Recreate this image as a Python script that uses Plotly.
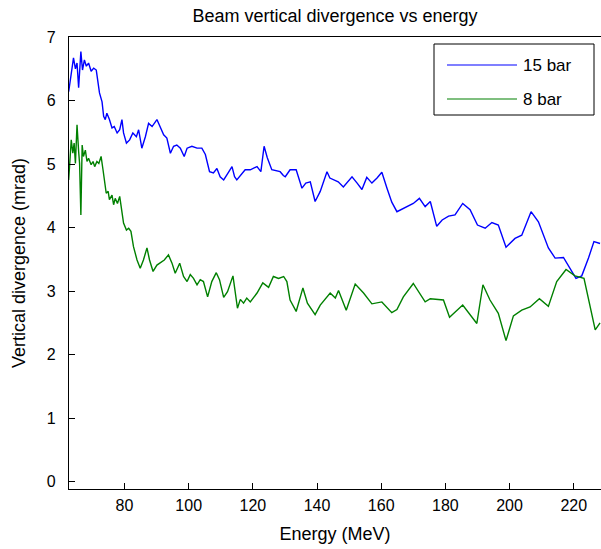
import plotly.graph_objects as go

# Energy (MeV) and vertical divergence (mrad) for the 15 bar gas-cell run
energy_15bar = [62.6, 63.1, 63.6, 64.1, 64.7, 65.2, 65.7, 66.0, 66.4, 66.9, 67.5, 68.1, 68.8,
                69.6, 70.4, 71.2, 71.6, 72.2, 73.0, 73.5, 74.0, 74.5, 75.3, 76.1, 76.8, 77.7,
                78.5, 79.2, 79.7, 80.6, 81.6, 82.6, 83.7, 84.4, 85.4, 86.5, 87.5, 88.6, 90.1,
                91.1, 92.2, 93.2, 94.3, 95.3, 96.3, 97.4, 98.6, 99.5, 101.0, 102.6, 104.1,
                105.2, 106.5, 107.7, 108.8, 109.8, 110.9, 111.9, 113.5, 114.3, 115.0, 117.6,
                119.2, 121.3, 122.5, 123.5, 124.5, 125.9, 127.0, 128.5, 129.5, 130.1, 131.6,
                133.5, 135.3, 136.5, 137.9, 139.4, 141.0, 142.1, 143.1, 144.0, 145.1, 146.6,
                148.2, 150.9, 152.5, 154.0, 155.5, 157.1, 158.7, 160.2, 161.8, 163.3, 164.9,
                167.0, 170.0, 171.9, 173.7, 175.3, 177.3, 179.0, 181.0, 183.0, 185.4, 187.7,
                190.0, 192.4, 194.5, 196.5, 198.9, 201.7, 203.8, 206.7, 209.0, 212.1, 214.2,
                216.8, 218.9, 220.7, 222.5, 224.6, 226.3, 228.2]
div_15bar = [6.14, 6.33, 6.48, 6.67, 6.50, 6.59, 6.20, 6.54, 6.77, 6.48, 6.64, 6.54, 6.59,
             6.46, 6.51, 6.48, 6.35, 6.12, 5.98, 5.75, 5.70, 5.80, 5.70, 5.57, 5.59, 5.49,
             5.54, 5.70, 5.49, 5.33, 5.38, 5.49, 5.43, 5.54, 5.25, 5.43, 5.64, 5.59, 5.70,
             5.59, 5.46, 5.41, 5.17, 5.28, 5.30, 5.25, 5.12, 5.25, 5.28, 5.25, 5.25,
             5.15, 4.88, 4.86, 4.93, 4.80, 4.75, 4.83, 4.96, 4.80, 4.75, 4.91,
             4.91, 4.96, 4.88, 5.28, 5.10, 4.91, 4.90, 4.88, 4.82, 4.80, 4.91,
             4.91, 4.62, 4.70, 4.72, 4.41, 4.57, 4.75, 4.88, 4.78, 4.75, 4.72,
             4.64, 4.80, 4.70, 4.60, 4.79, 4.70, 4.78, 4.87, 4.62, 4.40, 4.25,
             4.30, 4.38, 4.46, 4.33, 4.41, 4.02, 4.12, 4.18, 4.20, 4.38, 4.28,
             4.04, 3.99, 4.08, 4.04, 3.69, 3.83, 3.88, 4.25, 4.09, 3.68, 3.52,
             3.53, 3.36, 3.20, 3.24, 3.52, 3.78, 3.75]

# Energy (MeV) and vertical divergence (mrad) for the 8 bar gas-cell run
energy_8bar = [62.6, 62.9, 63.4, 63.9, 64.3, 64.7, 65.2, 65.7, 66.0, 66.4, 66.8, 67.2, 67.8,
               68.3, 68.8, 69.6, 70.2, 70.7, 71.4, 72.0, 72.7, 73.3, 73.8, 74.3, 74.9, 75.3,
               76.1, 76.6, 77.1, 77.8, 78.5, 79.2, 79.7, 80.6, 81.3, 82.0, 82.8, 83.9, 84.9,
               85.9, 87.0, 87.8, 88.9, 90.1, 91.1, 92.4, 93.7, 94.8, 95.8, 97.2, 98.4, 99.5,
               100.5, 101.5, 102.6, 103.6, 104.6, 105.9, 107.2, 108.6, 109.6, 110.9, 112.1,
               113.8, 115.2, 116.1, 117.1, 118.1, 119.2, 121.3, 123.1, 124.9, 126.4, 128.0,
               129.6, 130.6, 131.6, 133.5, 135.6, 137.0, 139.4, 141.0, 144.1, 145.7, 146.7,
               149.1, 151.9, 154.5, 157.1, 160.2, 163.3, 164.9, 166.9, 170.0, 173.7, 175.3,
               179.4, 181.3, 185.4, 189.8, 191.7, 193.9, 196.5, 198.9, 201.2, 203.8, 206.4,
               209.3, 212.1, 214.7, 217.6, 220.4, 223.2, 224.9, 226.7, 228.2]
div_8bar = [4.75, 5.07, 5.38, 5.17, 5.33, 5.01, 5.62, 5.20, 5.01, 4.20, 5.30, 5.12, 5.22,
            5.04, 5.09, 4.99, 5.04, 4.96, 5.04, 5.01, 5.12, 4.91, 4.75, 4.54, 4.57, 4.44,
            4.51, 4.36, 4.46, 4.38, 4.49, 4.28, 4.07, 3.96, 3.99, 3.94, 3.70, 3.49, 3.36,
            3.49, 3.68, 3.49, 3.31, 3.41, 3.44, 3.49, 3.57, 3.44, 3.28, 3.44, 3.23, 3.15,
            3.26, 3.20, 3.10, 3.18, 3.15, 2.91, 3.15, 3.29, 3.18, 2.90, 2.99,
            3.24, 2.73, 2.87, 2.81, 2.89, 2.83, 2.97, 3.13, 3.06, 3.23, 3.20,
            3.23, 3.15, 2.86, 2.68, 3.05, 2.81, 2.63, 2.78, 2.97, 2.89, 3.01,
            2.70, 3.11, 2.97, 2.80, 2.83, 2.66, 2.71, 2.91, 3.12, 2.83, 2.88,
            2.86, 2.59, 2.78, 2.49, 3.10, 2.86, 2.65, 2.22, 2.61, 2.70, 2.75,
            2.88, 2.76, 3.15, 3.34, 3.24, 3.20, 2.81, 2.39, 2.50]

series_names = ["15 bar", "8 bar"]
series_colors = ["#0000ff", "#008000"]
x_ticks = [80, 100, 120, 140, 160, 180, 200, 220]
y_ticks = [0, 1, 2, 3, 4, 5, 6, 7]

W, H = 601, 549
ML, MR, MT, MB = 69, 0, 37, 60
PW, PH = W - ML - MR, H - MT - MB
FONT = "Liberation Sans, Arial, sans-serif"


def px_x(p):
    return (p - ML) / PW


def px_y(p):
    return (H - MB - p) / PH


fig = go.Figure()
for xs, ys, name, color in [(energy_15bar, div_15bar, series_names[0], series_colors[0]),
                            (energy_8bar, div_8bar, series_names[1], series_colors[1])]:
    fig.add_trace(go.Scatter(x=xs, y=ys, mode="lines", name=name,
                             line=dict(color=color, width=1.4), showlegend=False))

# boxed legend drawn in paper coordinates
shapes = [dict(type="rect", xref="paper", yref="paper",
               x0=px_x(434), x1=px_x(594), y0=px_y(115), y1=px_y(44),
               line=dict(color="black", width=1), fillcolor="white", layer="above")]
annotations = []
for i, (name, color) in enumerate(zip(series_names, series_colors)):
    yy = px_y(65 + 34 * i)
    shapes.append(dict(type="line", xref="paper", yref="paper",
                       x0=px_x(447), x1=px_x(517), y0=yy, y1=yy,
                       line=dict(color=color, width=1.2), layer="above"))
    annotations.append(dict(xref="paper", yref="paper", x=px_x(521), y=yy,
                            text=name, showarrow=False, xanchor="left", yanchor="middle",
                            font=dict(family=FONT, size=17, color="black")))

fig.update_layout(
    width=W, height=H,
    margin=dict(l=ML, r=MR, t=MT, b=MB, pad=0),
    paper_bgcolor="white", plot_bgcolor="white",
    font=dict(family=FONT, size=16, color="black"),
    title=dict(text="Beam vertical divergence vs energy", x=(ML + W) / 2 / W,
               xanchor="center", y=1 - 16 / H, yanchor="middle",
               font=dict(family=FONT, size=18, color="black")),
    shapes=shapes, annotations=annotations,
    xaxis=dict(range=[62.7, 228.5], tickvals=x_ticks, ticks="inside", ticklen=6,
               tickcolor="black", showline=True, linecolor="black", linewidth=1.2,
               mirror=True, showgrid=False, zeroline=False, ticklabelstandoff=2,
               tickfont=dict(size=16),
               title=dict(text="Energy (MeV)", standoff=14, font=dict(size=18))),
    yaxis=dict(range=[-0.115, 7], tickvals=y_ticks, ticks="inside", ticklen=6,
               tickcolor="black", showline=True, linecolor="black", linewidth=1.2,
               mirror=True, showgrid=False, zeroline=False, ticklabelstandoff=9,
               tickfont=dict(size=16),
               title=dict(text="Vertical divergence (mrad)", standoff=16, font=dict(size=18))),
)

fig.write_html("out.html")
